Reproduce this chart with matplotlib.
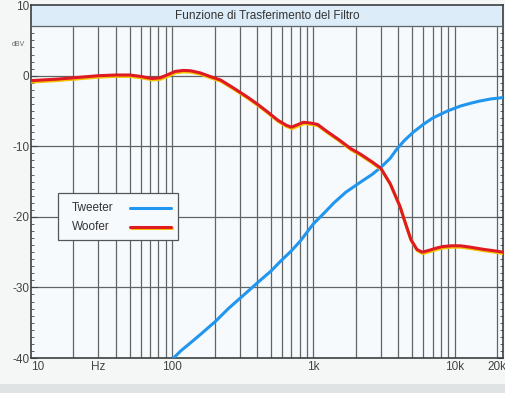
import matplotlib
matplotlib.use('Agg')
from matplotlib import pyplot as plt
from matplotlib import patheffects as pe
from matplotlib.patches import Rectangle
from matplotlib.ticker import FixedLocator, NullFormatter

plt.rcParams['font.family'] = ['Liberation Sans', 'DejaVu Sans']
plt.rcParams['axes.unicode_minus'] = False

woofer_f = [10, 15, 20, 30, 40, 50, 60, 72, 82, 92, 105, 120, 135, 158, 185, 220,
            270, 340, 400, 472, 560, 640, 700, 760, 850, 950, 1070, 1250, 1500,
            1830, 2150, 2600, 3000, 3500, 4100, 4500, 4900, 5400, 5900, 6700,
            7500, 8300, 9500, 11000, 13000, 16000, 19000, 22000]
woofer_db = [-0.7, -0.5, -0.3, 0.0, 0.1, 0.1, -0.1, -0.4, -0.3, 0.1, 0.6, 0.75,
             0.7, 0.4, -0.1, -0.6, -1.7, -3.0, -4.0, -5.1, -6.3, -7.0, -7.3,
             -7.0, -6.6, -6.7, -6.9, -7.9, -9.0, -10.3, -11.1, -12.2, -13.1,
             -15.3, -18.5, -21.0, -23.2, -24.6, -25.0, -24.7, -24.4, -24.2,
             -24.1, -24.1, -24.3, -24.6, -24.8, -25.0]

tweeter_f = [100, 115, 134, 160, 203, 250, 304, 360, 420, 500, 585, 700, 810,
             1000, 1200, 1400, 1700, 2150, 2600, 3000, 3500, 3900, 4400, 5100,
             6000, 7000, 8900, 11000, 13000, 15000, 18000, 22000]
tweeter_db = [-40.2, -39.0, -37.9, -36.6, -34.8, -33.0, -31.5, -30.2, -29.0,
              -27.7, -26.3, -24.8, -23.4, -21.0, -19.4, -18.0, -16.5, -15.1,
              -14.0, -13.0, -11.7, -10.4, -9.2, -8.0, -6.9, -6.0, -5.0, -4.3,
              -3.9, -3.6, -3.3, -3.1]

x_ticks = [10, 30, 100, 1000, 10000, 20000]
x_labels = ['10', 'Hz', '100', '1k', '10k', '20k']
y_ticks = [10, 0, -10, -20, -30, -40]

grid_c = '#5f6464'
tweeter_c = '#2196ee'
woofer_c = '#e01a22'
woofer_fx = [pe.SimpleLineShadow(offset=(0.4, -1.0), shadow_color='#f2c400', alpha=1),
             pe.Normal()]

fig = plt.figure(figsize=(5.06, 3.93), dpi=100, facecolor='#f5f7f7')
fig.patches.append(Rectangle((0, 0), 1, 0.022, transform=fig.transFigure,
                             facecolor='#dfe3e3', edgecolor='none'))
ax = fig.add_axes([0.061, 0.089, 0.933, 0.898])
ax.set_facecolor('#f7fafd')

ax.set_xscale('log')
ax.set_xlim(10, 22000)
ax.set_ylim(-40, 10)

# vertical grid at every 1-2-...-9 step
grid_x = [m * 10 ** d for d in range(1, 5) for m in range(1, 10) if m * 10 ** d < 22000]
for gx in grid_x[1:]:
    ax.axvline(gx, color=grid_c, lw=0.9, zorder=1)
for gy in [0, -10, -20, -30]:
    ax.axhline(gy, color=grid_c, lw=0.9, zorder=1)

# title bar
ax.axhspan(7, 10, color='#dcecf8', zorder=2)
ax.axhline(7, color=grid_c, lw=0.9, zorder=3)
ax.text(0.5, 8.5, 'Funzione di Trasferimento del Filtro', transform=ax.get_yaxis_transform(),
        ha='center', va='center', fontsize=8.5, color='#333333', zorder=4)

ax.plot(tweeter_f, tweeter_db, color=tweeter_c, lw=2.2, zorder=5, solid_capstyle='round')
ax.plot(woofer_f, woofer_db, color=woofer_c, lw=2.2, zorder=6, path_effects=woofer_fx)

ax.xaxis.set_major_locator(FixedLocator(x_ticks))
ax.set_xticklabels(x_labels)
ax.xaxis.set_minor_formatter(NullFormatter())
ax.xaxis.set_minor_locator(FixedLocator([]))
ax.tick_params(axis='x', length=0, pad=2, labelsize=8.5, colors='#444444')
ax.get_xticklabels()[0].set_horizontalalignment('left')

ax.yaxis.set_major_locator(FixedLocator(y_ticks))
ax.yaxis.set_minor_locator(FixedLocator(range(-40, 11)))
ax.tick_params(axis='y', which='both', direction='in', left=True, right=True,
               labelsize=8.5, colors='#444444', pad=1)
ax.tick_params(axis='y', which='major', length=4)
ax.tick_params(axis='y', which='minor', length=2.5)

ax.text(-0.012, 4.4, 'dBV', transform=ax.get_yaxis_transform(), ha='right', va='center',
        fontsize=5, color='#666666')

for s in ax.spines.values():
    s.set_color('#3a3f3f')
    s.set_linewidth(1.2)

# legend box drawn by hand: labels left, sample lines right
ax.add_patch(Rectangle((0.057, 0.334), 0.254, 0.133, transform=ax.transAxes,
                       facecolor='#f7fafd', edgecolor='#555555', lw=0.9, zorder=10))
legend_rows = [('Tweeter', tweeter_c, None, 0.425), ('Woofer', woofer_c, woofer_fx, 0.372)]
for name, col, fx, yy in legend_rows:
    ax.text(0.087, yy, name, transform=ax.transAxes, ha='left', va='center',
            fontsize=8.5, color='#333333', zorder=11)
    ax.plot([0.21, 0.297], [yy, yy], transform=ax.transAxes, color=col, lw=2.2,
            solid_capstyle='round', zorder=11, path_effects=fx)

fig.savefig('out.png', dpi=100, facecolor=fig.get_facecolor())
